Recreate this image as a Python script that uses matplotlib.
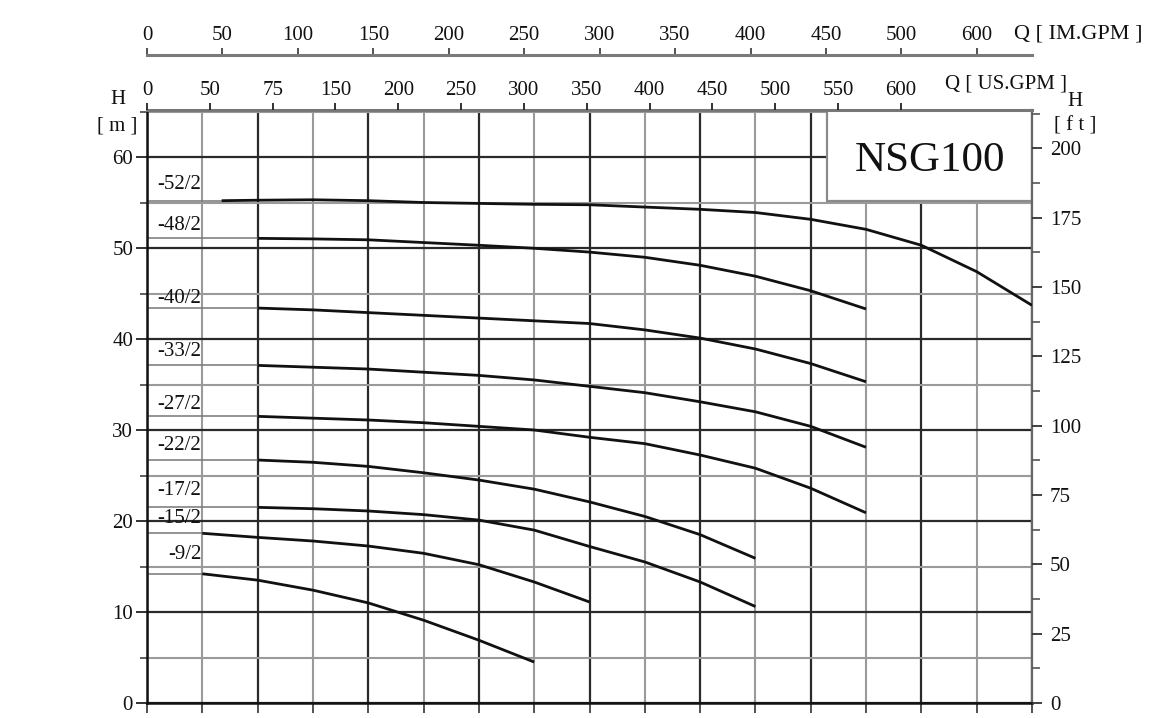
import matplotlib
matplotlib.use('Agg')
import matplotlib.pyplot as plt
from matplotlib.patches import Rectangle
from matplotlib.ticker import MultipleLocator, FixedLocator

plt.rcParams['font.family'] = ['Liberation Serif', 'DejaVu Serif']
plt.rcParams['text.color'] = '#111'
plt.rcParams['xtick.labelcolor'] = '#111'
plt.rcParams['ytick.labelcolor'] = '#111'

# ---------------- data ----------------
curve_names = ['-52/2', '-48/2', '-40/2', '-33/2', '-27/2', '-22/2', '-17/2', '-15/2', '-9/2']

q_52 = [13.5, 20, 30, 40, 50, 60, 70, 80, 90, 100, 110, 120, 130, 140, 150, 160]
h_52 = [55.2, 55.25, 55.3, 55.2, 55.0, 54.9, 54.8, 54.75, 54.5, 54.25, 53.9, 53.15, 52.05, 50.3, 47.4, 43.7]

q_48 = [20, 30, 40, 50, 60, 70, 80, 90, 100, 110, 120, 130]
h_48 = [51.06, 51.0, 50.9, 50.6, 50.3, 49.97, 49.55, 48.98, 48.1, 46.9, 45.3, 43.3]

q_40 = [20, 30, 40, 50, 60, 70, 80, 90, 100, 110, 120, 130]
h_40 = [43.4, 43.2, 42.9, 42.6, 42.3, 42.0, 41.7, 41.0, 40.1, 38.9, 37.3, 35.3]

q_33 = [20, 30, 40, 50, 60, 70, 80, 90, 100, 110, 120, 130]
h_33 = [37.1, 36.9, 36.7, 36.35, 36.0, 35.5, 34.8, 34.1, 33.1, 32.0, 30.4, 28.1]

q_27 = [20, 30, 40, 50, 60, 70, 80, 90, 100, 110, 120, 130]
h_27 = [31.5, 31.3, 31.1, 30.8, 30.4, 30.0, 29.2, 28.5, 27.25, 25.8, 23.6, 20.9]

q_22 = [20, 30, 40, 50, 60, 70, 80, 90, 100, 110]
h_22 = [26.7, 26.45, 26.0, 25.3, 24.5, 23.5, 22.1, 20.5, 18.5, 15.9]

q_17 = [20, 30, 40, 50, 60, 70, 80, 90, 100, 110]
h_17 = [21.5, 21.35, 21.1, 20.7, 20.1, 19.0, 17.2, 15.5, 13.3, 10.6]

q_15 = [10, 20, 30, 40, 50, 60, 70, 80]
h_15 = [18.65, 18.2, 17.8, 17.25, 16.45, 15.2, 13.3, 11.1]

q_9 = [10, 20, 30, 40, 50, 60, 70]
h_9 = [14.2, 13.5, 12.4, 11.0, 9.1, 6.9, 4.5]

curves_q = [q_52, q_48, q_40, q_33, q_27, q_22, q_17, q_15, q_9]
curves_h = [h_52, h_48, h_40, h_33, h_27, h_22, h_17, h_15, h_9]
label_h = [57.0, 52.5, 44.5, 38.6, 32.75, 28.35, 23.4, 20.3, 16.3]

h_m_ticks = [0, 10, 20, 30, 40, 50, 60]
h_ft_ticks = [0, 25, 50, 75, 100, 125, 150, 175, 200]
im_gpm_ticks = [0, 50, 100, 150, 200, 250, 300, 350, 400, 450, 500, 550]
im_gpm_labels = ['0', '50', '100', '150', '200', '250', '300', '350', '400', '450', '500', '600']
us_gpm_ticks = [0, 50, 100, 150, 200, 250, 300, 350, 400, 450, 500, 550, 600]
us_gpm_labels = ['0', '50', '75', '150', '200', '250', '300', '350', '400', '450', '500', '550', '600']

Q_MAX = 160
M3H_PER_IMGPM = 0.27277
M3H_PER_USGPM = 0.22712
M_PER_FT = 0.3048

# ---------------- layout ----------------
W, H = 1173, 718
fig = plt.figure(figsize=(W / 100, H / 100), dpi=100)
fig.patch.set_facecolor('white')


def px(x0, y0, x1, y1):
    return [x0 / W, 1 - y1 / H, (x1 - x0) / W, (y1 - y0) / H]


ax = fig.add_axes(px(147, 110, 1032, 703))
H_TOP = 593 / 9.1
ax.set_xlim(0, Q_MAX)
ax.set_ylim(0, H_TOP)
ax.set_axisbelow(True)

ax.xaxis.set_major_locator(MultipleLocator(20))
ax.xaxis.set_minor_locator(MultipleLocator(10))
ax.yaxis.set_major_locator(FixedLocator(h_m_ticks))
ax.yaxis.set_minor_locator(MultipleLocator(5))
ax.grid(which='major', axis='both', color='#2a2a2a', lw=1.6)
ax.grid(which='minor', axis='both', color='#9a9a9a', lw=1.5)
ax.tick_params(axis='x', which='both', direction='out', length=7, width=1.2,
               labelbottom=False, color='#333')
ax.tick_params(axis='y', which='major', direction='out', length=8, width=1.3,
               labelsize=15, pad=2, color='#222')
ax.tick_params(axis='y', which='minor', direction='out', length=5, width=1.2, color='#444')
for s in ['left', 'bottom']:
    ax.spines[s].set_color('#111')
    ax.spines[s].set_linewidth(1.8)
ax.spines['top'].set_color('#777')
ax.spines['top'].set_linewidth(2.2)
ax.spines['right'].set_color('#666')
ax.spines['right'].set_linewidth(1.6)

# model box
ax.add_patch(Rectangle((123.0, 55.2), Q_MAX - 123.0, H_TOP - 55.2, facecolor='white',
                       edgecolor='#8a8a8a', lw=1.6, zorder=1.5))
ax.text(141.5, 59.6, 'NSG100', fontsize=31, ha='center', va='center', zorder=2,
        color='#111')

# curves
for name, q, h, lh in zip(curve_names, curves_q, curves_h, label_h):
    ax.plot([0, q[0]], [h[0], h[0]], color='#777', lw=1.1, zorder=2.5)
    ax.plot(q, h, color='#111', lw=2.0, zorder=3, solid_capstyle='butt')
    ax.text(9.8, lh, name, fontsize=15, ha='right', va='center', color='#111', zorder=4)

# right axis (ft)
ax_ft = ax.twinx()
ax_ft.set_ylim(0, H_TOP / M_PER_FT)
ax_ft.yaxis.set_major_locator(FixedLocator(h_ft_ticks))
ax_ft.yaxis.set_minor_locator(MultipleLocator(12.5))
ax_ft.tick_params(axis='y', which='major', direction='out', length=7, width=1.3,
                  labelsize=15, pad=6, color='#333')
ax_ft.tick_params(axis='y', which='minor', direction='out', length=6, width=1.2, color='#555')
for s in ax_ft.spines.values():
    s.set_visible(False)

# top axis US GPM (on the frame top)
ax_us = ax.twiny()
ax_us.set_xlim(0, Q_MAX / M3H_PER_USGPM)
ax_us.set_xticks(us_gpm_ticks)
ax_us.set_xticklabels(us_gpm_labels)
ax_us.tick_params(axis='x', direction='out', length=5, width=1.3, labelsize=15, pad=2,
                  color='#222')
for s in ax_us.spines.values():
    s.set_visible(False)

# separate IM GPM axis above
ax_im = fig.add_axes(px(147, 55, 1032, 56))
ax_im.set_xlim(0, Q_MAX / M3H_PER_IMGPM)
ax_im.set_yticks([])
ax_im.patch.set_visible(False)
for s in ['left', 'right', 'bottom']:
    ax_im.spines[s].set_visible(False)
ax_im.spines['top'].set_color('#7a7a7a')
ax_im.spines['top'].set_linewidth(2.2)
ax_im.xaxis.tick_top()
ax_im.set_xticks(im_gpm_ticks)
ax_im.set_xticklabels(im_gpm_labels)
ax_im.tick_params(axis='x', direction='out', length=5, width=1.3, labelsize=15, pad=2,
                  color='#444')

# axis titles
def ftext(x, y, s, **kw):
    fig.text(x / W, 1 - y / H, s, **kw)

ftext(118, 100, 'H', fontsize=15, ha='center', va='center')
ftext(117, 126, '[ m ]', fontsize=15, ha='center', va='center')
ftext(1075, 101, 'H', fontsize=15, ha='center', va='center')
ftext(1075, 126, '[ f t ]', fontsize=15, ha='center', va='center')
ftext(945, 84, 'Q [ US.GPM ]', fontsize=15, ha='left', va='center')
ftext(1014, 34, 'Q [ IM.GPM ]', fontsize=16, ha='left', va='center')

fig.savefig('out.png', dpi=100)
